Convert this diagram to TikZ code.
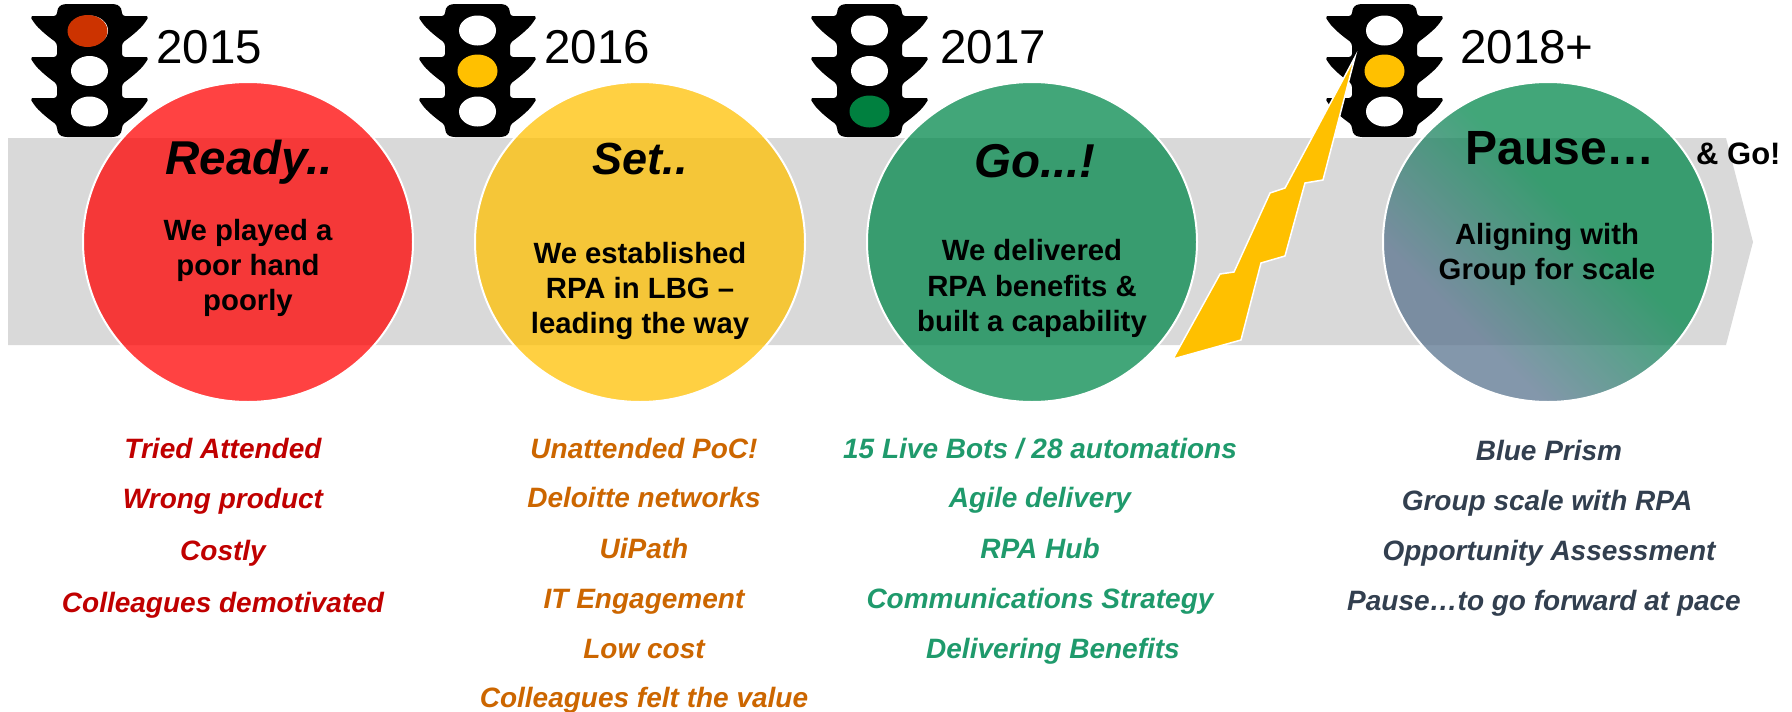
\documentclass[tikz,border=0pt]{standalone}
\usepackage{fontspec}
\setmainfont{Liberation Sans}
\usetikzlibrary{shapes.geometric}
\definecolor{bandgrey}{HTML}{D9D9D9}
\definecolor{cred}{HTML}{FF0000}
\definecolor{cyellow}{HTML}{FFC000}
\definecolor{cgreen}{HTML}{00874B}
\definecolor{tred}{HTML}{C00000}
\definecolor{torange}{HTML}{CC6600}
\definecolor{tgreen}{HTML}{1F9A6C}
\definecolor{tslate}{HTML}{323F4F}
\definecolor{cslate}{HTML}{59738E}
\definecolor{litred}{HTML}{CC3300}
\definecolor{litgreen}{HTML}{00803F}
\pgfdeclareverticalshading{pauseshade}{100bp}{color(0bp)=(cslate); color(32bp)=(cslate); color(56bp)=(cgreen); color(100bp)=(cgreen)}
\tikzset{
  x=1pt,y=-1pt,
  disc/.style={ellipse,minimum width=330pt,minimum height=320pt,inner sep=0pt},
  discfill/.style={disc,draw=white,line width=2pt,fill opacity=0.74},
  year/.style={font=\fontsize{47.5}{47.5}\selectfont,anchor=base west,inner sep=0pt},
  headtext/.style={font=\fontsize{47.5}{47.5}\selectfont\bfseries\itshape,anchor=base,inner sep=0pt},
  bodytext/.style={font=\fontsize{29.3}{29.3}\selectfont\bfseries,anchor=base,inner sep=0pt},
  itemtext/.style={font=\fontsize{28}{28}\selectfont\bfseries\itshape,anchor=base,inner sep=0pt},
  bulb/.style={fill=white,draw=none},
  bolt/.style={fill=cyellow,draw=white,line width=1.5pt,line join=miter},
}
\newcommand{\trafficlight}[1]{%
  \begin{scope}[shift={(#1,0)}]
    \fill[black,rounded corners=3pt]
      (32,137) -- (27,135) -- (25,130) -- (25,125) .. controls (14,117) and (6,110) .. (1,103)
      .. controls (-1,100) and (0,98) .. (3,98) -- (25,98) -- (25,84)
      .. controls (14,76) and (6,69) .. (1,62)
      .. controls (-1,59) and (0,57) .. (3,57) -- (25,57) -- (25,43)
      .. controls (14,35) and (6,28) .. (1,21)
      .. controls (-1,18) and (0,16) .. (3,16) -- (25,16) -- (25,11) -- (27,6) -- (32,4)
      -- (83,4) -- (88,6) -- (90,11) -- (90,16) -- (112,16)
      .. controls (115,16) and (116,18) .. (114,21)
      .. controls (109,28) and (101,35) .. (90,43) -- (90,57) -- (112,57)
      .. controls (115,57) and (116,59) .. (114,62)
      .. controls (109,69) and (101,76) .. (90,84) -- (90,98) -- (112,98)
      .. controls (115,98) and (116,100) .. (114,103)
      .. controls (109,110) and (101,117) .. (90,125) -- (90,130) -- (88,135) -- (83,137) -- cycle;
    \fill[bulb] (57.5,30.5) ellipse [x radius=18.5,y radius=15];
    \fill[bulb] (57.5,71) ellipse [x radius=18.5,y radius=15];
    \fill[bulb] (57.5,111.5) ellipse [x radius=18.5,y radius=15];
  \end{scope}}
\begin{document}
\begin{tikzpicture}
\useasboundingbox (0,0) rectangle (1792,712);
% traffic lights
\trafficlight{32}
\trafficlight{420}
\trafficlight{812}
\trafficlight{1327}
\fill[litred] (87.5,31) ellipse [x radius=20,y radius=16];
\fill[cyellow] (477.5,71) ellipse [x radius=20,y radius=16.5];
\fill[litgreen] (869.5,111.5) ellipse [x radius=20,y radius=16];
\fill[cyellow] (1384.5,71) ellipse [x radius=20,y radius=16.5];
% white discs hide the lights behind the translucent circles
\node[disc,fill=white] at (248,242) {};
\node[disc,fill=white] at (640,242) {};
\node[disc,fill=white] at (1032,242) {};
\node[disc,fill=white] at (1548,242) {};
% band
\fill[bandgrey] (8,138) -- (1726,138) -- (1753,242) -- (1726,345) -- (8,345) -- cycle;
% circles
\node[discfill,fill=cred] (ready) at (248,242) {};
\node[discfill,fill=cyellow] (set) at (640,242) {};
\node[discfill,fill=cgreen] (go) at (1032,242) {};
\node[discfill,shade,shading=pauseshade,shading angle=-45] (pause) at (1548,242) {};
% bolt
\draw[bolt] (1173,359) -- (1241,340) -- (1261,263) -- (1285,256) -- (1305,183) -- (1323,180)
  -- (1355,57) -- (1285,188) -- (1270,193) -- (1234,272) -- (1220,274) -- cycle;
% years
\node[year] (y15) at (156,63) {2015};
\node[year] (y16) at (544,63) {2016};
\node[year] (y17) at (940,63) {2017};
\node[year] (y18) at (1460,63) {2018+};
% circle heads
\node[headtext] (h1) at (249,174) {Ready..};
\node[headtext,font=\fontsize{45}{45}\selectfont\bfseries\itshape] (h2) at (640,174) {Set..};
\node[headtext] (h3) at (1035,177) {Go...!};
\node[headtext,font=\fontsize{48}{48}\selectfont\bfseries] (h4) at (1560,164) {Pause…};
\node[bodytext,anchor=base west,font=\fontsize{31}{31}\selectfont\bfseries] (h5) at (1696,164) {\& Go!};
% circle bodies
\node[bodytext] (b11) at (248,240) {We played a};
\node[bodytext] (b12) at (248,275) {poor hand};
\node[bodytext] (b13) at (248,310) {poorly};
\node[bodytext] (b21) at (640,263) {We established};
\node[bodytext] (b22) at (640,298) {RPA in LBG –};
\node[bodytext] (b23) at (640,333) {leading the way};
\node[bodytext] (b31) at (1032,260) {We delivered};
\node[bodytext] (b32) at (1032,296) {RPA benefits \&};
\node[bodytext] (b33) at (1032,331) {built a capability};
\node[bodytext] (b41) at (1547,244) {Aligning with};
\node[bodytext] (b42) at (1547,279) {Group for scale};
% lists
\begin{scope}[every node/.append style={itemtext,text=tred}]
\node (l11) at (223,458) {Tried Attended};
\node (l12) at (223,508) {Wrong product};
\node (l13) at (223,560) {Costly};
\node (l14) at (223,612) {Colleagues demotivated};
\end{scope}
\begin{scope}[every node/.append style={itemtext,text=torange}]
\node (l21) at (644,458) {Unattended PoC!};
\node (l22) at (644,507) {Deloitte networks};
\node (l23) at (644,558) {UiPath};
\node (l24) at (644,608) {IT Engagement};
\node (l25) at (644,658) {Low cost};
\node (l26) at (644,707) {Colleagues felt the value};
\end{scope}
\begin{scope}[every node/.append style={itemtext,text=tgreen}]
\node (l31) at (1040,458) {15 Live Bots / 28 automations};
\node (l32) at (1040,507) {Agile delivery};
\node (l33) at (1040,558) {RPA Hub};
\node (l34) at (1040,608) {Communications Strategy};
\node (l35) at (1053,658) {Delivering Benefits};
\end{scope}
\begin{scope}[every node/.append style={itemtext,text=tslate}]
\node (l41) at (1549,460) {Blue Prism};
\node (l42) at (1547,510) {Group scale with RPA};
\node (l43) at (1549,560) {Opportunity Assessment};
\node (l44) at (1544,610) {Pause…to go forward at pace};
\end{scope}
\end{tikzpicture}
\end{document}
